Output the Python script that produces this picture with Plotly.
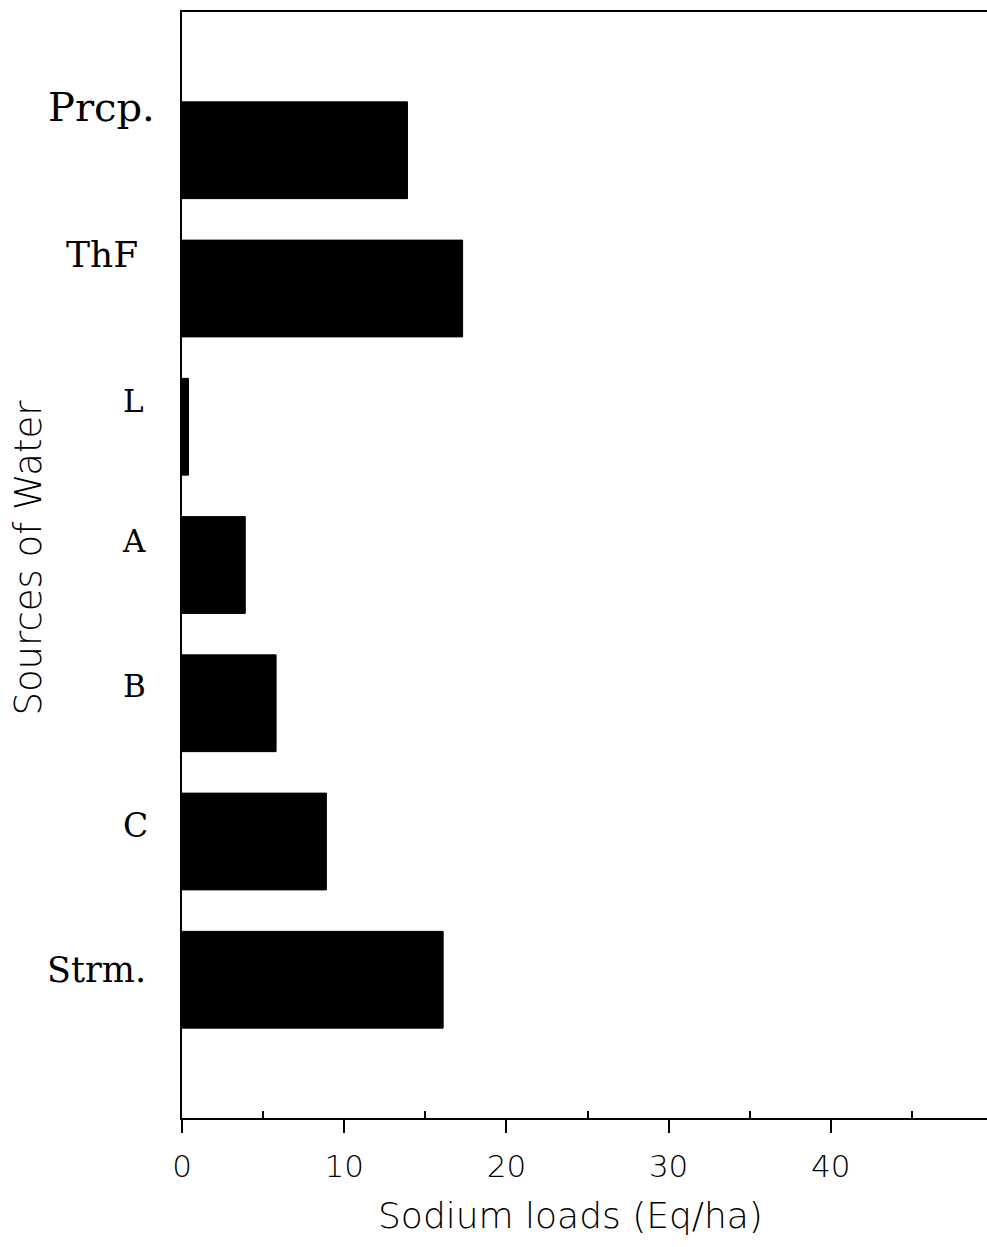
import plotly.graph_objects as go

# Sodium loads by source of water
sources = ["Prcp.", "ThF", "L", "A", "B", "C", "Strm."]
sodium_loads = [13.9, 17.3, 0.4, 3.9, 5.8, 8.9, 16.1]

major_ticks = [0, 10, 20, 30, 40]
minor_ticks = [5, 15, 25, 35, 45]

# Category labels are set by hand beside the bars: font size,
# lift above the bar centre and right-edge offset from the axis (px)
label_sizes = [40, 36, 31, 31, 31, 33, 35]
label_lift = [43, 34, 26, 24, 17, 16, 10]
label_xshift = [-25, -42, -36, -34, -34, -32, -34]

SERIF = "DejaVu Serif"
SANS = "DejaVu Sans"
X_MAX = 49.63

fig = go.Figure()

fig.add_trace(go.Bar(
    x=sodium_loads,
    y=sources,
    orientation="h",
    width=0.7,
    marker=dict(color="black", line=dict(color="black", width=1)),
    showlegend=False,
    hoverinfo="x+y",
))

for name, size, lift, dx in zip(sources, label_sizes, label_lift, label_xshift):
    fig.add_annotation(
        x=0, y=name, xref="x", yref="y",
        text=name, showarrow=False,
        xanchor="right", yanchor="middle",
        xshift=dx, yshift=lift,
        font=dict(family=SERIF, size=size, color="black"),
    )

fig.add_annotation(
    x=-0.191, y=0.507, xref="paper", yref="paper",
    text="Sources of Water", textangle=-90, showarrow=False,
    xanchor="center", yanchor="middle",
    font=dict(family=SANS, size=37, color="black", weight=200),
)
fig.add_annotation(
    x=0.483, y=-0.0886, xref="paper", yref="paper",
    text="Sodium loads (Eq/ha)", showarrow=False,
    xanchor="center", yanchor="middle",
    font=dict(family=SANS, size=36, color="black", weight=200),
)

fig.update_layout(
    width=987,
    height=1247,
    margin=dict(l=182, r=0, t=12, b=129),
    paper_bgcolor="white",
    plot_bgcolor="white",
    bargap=0.3,
    xaxis=dict(
        range=[0, X_MAX],
        tickvals=major_ticks,
        ticktext=[str(v) for v in major_ticks],
        ticks="outside", ticklen=13, tickwidth=2, tickcolor="black",
        ticklabelstandoff=7,
        minor=dict(tickvals=minor_ticks, ticks="inside", ticklen=7,
                   tickwidth=2, tickcolor="black"),
        showline=True, linewidth=2, linecolor="black", mirror=True,
        showgrid=False, zeroline=False,
        tickfont=dict(family=SANS, size=31, color="black", weight=200),
    ),
    xaxis2=dict(
        overlaying="x", anchor="y", side="bottom",
        range=[0, X_MAX],
        tickvals=major_ticks[1:],
        ticks="inside", ticklen=15, tickwidth=2, tickcolor="black",
        showticklabels=False, showline=False, showgrid=False, zeroline=False,
    ),
    yaxis=dict(
        type="category",
        categoryorder="array", categoryarray=sources,
        range=[7, -1],
        showticklabels=False, ticks="",
        showline=True, linewidth=2, linecolor="black",
        showgrid=False, zeroline=False,
    ),
)

fig.write_html("out.html")
